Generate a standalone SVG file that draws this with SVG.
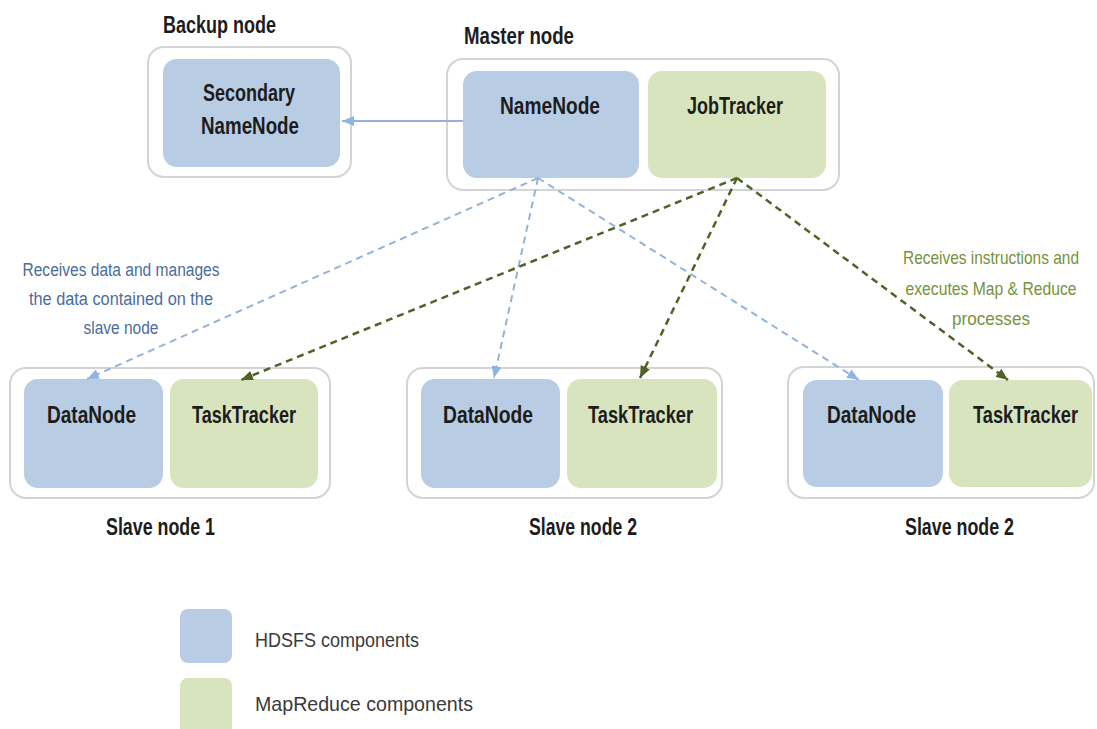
<svg xmlns="http://www.w3.org/2000/svg" width="1097" height="729" viewBox="0 0 1097 729">
<style>
.cont{fill:#fff;stroke:#d4d4d4;stroke-width:2}
.hd{fill:#b8cce4}
.mr{fill:#d7e4bd}
.lbl{font-family:"Liberation Sans",Arial,sans-serif;font-weight:bold;font-size:23px;fill:#1c1c1c}
.ann{font-family:"Liberation Sans",Arial,sans-serif;font-size:18px;text-anchor:middle}
.leg{font-family:"Liberation Sans",Arial,sans-serif;font-size:21px;fill:#3a3a3a}
.bl{stroke:#95b3d7;stroke-width:2;fill:none;stroke-dasharray:7 5}
.gr{stroke:#4f6228;stroke-width:2.5;fill:none;stroke-dasharray:7 5}
</style>
<defs>
<marker id="ab" viewBox="0 0 12 10" refX="12" refY="5" markerWidth="12" markerHeight="10" markerUnits="userSpaceOnUse" orient="auto"><path d="M0,0 L12,5 L0,10 z" fill="#8eb4e3"/></marker>
<marker id="ag" viewBox="0 0 12 10" refX="12" refY="5" markerWidth="12" markerHeight="10" markerUnits="userSpaceOnUse" orient="auto"><path d="M0,0 L12,5 L0,10 z" fill="#4f6228"/></marker>
</defs>

<g id="backup">
<text class="lbl" x="163" y="33" textLength="113" lengthAdjust="spacingAndGlyphs">Backup node</text>
<rect class="cont" x="148" y="47" width="203" height="130" rx="16"/>
<rect class="hd" x="163" y="59" width="177" height="108" rx="14"/>
<text class="lbl" x="203" y="101" textLength="92" lengthAdjust="spacingAndGlyphs">Secondary</text>
<text class="lbl" x="201" y="134" textLength="98" lengthAdjust="spacingAndGlyphs">NameNode</text>
</g>

<g id="master">
<text class="lbl" x="464" y="44" textLength="110" lengthAdjust="spacingAndGlyphs">Master node</text>
<rect class="cont" x="447" y="59" width="392" height="131" rx="16"/>
<rect class="hd" x="463" y="71" width="176" height="107" rx="14"/>
<rect class="mr" x="648" y="71" width="178" height="107" rx="14"/>
<text class="lbl" x="500" y="114" textLength="100" lengthAdjust="spacingAndGlyphs">NameNode</text>
<text class="lbl" x="687" y="114" textLength="96" lengthAdjust="spacingAndGlyphs">JobTracker</text>
</g>

<g id="slave1">
<rect class="cont" x="10" y="368" width="320" height="130" rx="16"/>
<rect class="hd" x="24" y="379" width="139" height="109" rx="14"/>
<rect class="mr" x="170" y="379" width="148" height="109" rx="14"/>
<text class="lbl" x="47" y="423" textLength="89" lengthAdjust="spacingAndGlyphs">DataNode</text>
<text class="lbl" x="192" y="423" textLength="104" lengthAdjust="spacingAndGlyphs">TaskTracker</text>
<text class="lbl" x="106" y="535" textLength="109" lengthAdjust="spacingAndGlyphs">Slave node 1</text>
</g>

<g id="slave2">
<rect class="cont" x="407" y="368" width="315" height="130" rx="16"/>
<rect class="hd" x="421" y="379" width="139" height="109" rx="14"/>
<rect class="mr" x="567" y="379" width="150" height="109" rx="14"/>
<text class="lbl" x="443" y="423" textLength="90" lengthAdjust="spacingAndGlyphs">DataNode</text>
<text class="lbl" x="588" y="423" textLength="105" lengthAdjust="spacingAndGlyphs">TaskTracker</text>
<text class="lbl" x="529" y="535" textLength="108" lengthAdjust="spacingAndGlyphs">Slave node 2</text>
</g>

<g id="slave3">
<rect class="cont" x="788" y="367" width="306" height="131" rx="16"/>
<rect class="hd" x="803" y="380" width="140" height="107" rx="14"/>
<rect class="mr" x="949" y="380" width="143" height="107" rx="14"/>
<text class="lbl" x="827" y="423" textLength="89" lengthAdjust="spacingAndGlyphs">DataNode</text>
<text class="lbl" transform="translate(973,423) scale(0.78,1)" x="0" y="0" textLength="134.6" lengthAdjust="spacingAndGlyphs">TaskTracker</text>
<text class="lbl" x="905" y="535" textLength="109" lengthAdjust="spacingAndGlyphs">Slave node 2</text>
</g>

<g id="connectors">
<line x1="463" y1="121" x2="342" y2="121" stroke="#95b3d7" stroke-width="2" marker-end="url(#ab)"/>
<line class="bl" x1="538" y1="178" x2="87" y2="379" marker-end="url(#ab)"/>
<line class="bl" x1="538" y1="178" x2="494" y2="378" marker-end="url(#ab)"/>
<line class="bl" x1="538" y1="178" x2="859" y2="380" marker-end="url(#ab)"/>
<line class="gr" x1="737" y1="178" x2="241" y2="380" marker-end="url(#ag)"/>
<line class="gr" x1="737" y1="178" x2="640" y2="378" marker-end="url(#ag)"/>
<line class="gr" x1="737" y1="178" x2="1008" y2="380" marker-end="url(#ag)"/>
</g>

<g id="annotations">
<g fill="#4a6d9c">
<text class="ann" x="121" y="276" textLength="197" lengthAdjust="spacingAndGlyphs">Receives data and manages</text>
<text class="ann" x="121" y="305" textLength="184" lengthAdjust="spacingAndGlyphs">the data contained on the</text>
<text class="ann" x="121" y="334" textLength="75" lengthAdjust="spacingAndGlyphs">slave node</text>
</g>
<g fill="#76923c">
<text class="ann" transform="translate(991,264) scale(0.82,1)" x="0" y="0" textLength="214.6" lengthAdjust="spacingAndGlyphs">Receives instructions and</text>
<text class="ann" transform="translate(991,295) scale(0.82,1)" x="0" y="0" textLength="208.5" lengthAdjust="spacingAndGlyphs">executes Map &amp; Reduce</text>
<text class="ann" transform="translate(991,325) scale(0.82,1)" x="0" y="0" textLength="95" lengthAdjust="spacingAndGlyphs">processes</text>
</g>
</g>

<g id="legend">
<rect class="hd" x="180" y="609" width="52" height="54" rx="8"/>
<rect class="mr" x="180" y="678" width="52" height="60" rx="8"/>
<text class="leg" x="255" y="647" textLength="164" lengthAdjust="spacingAndGlyphs">HDSFS components</text>
<text class="leg" x="255" y="711" textLength="218" lengthAdjust="spacingAndGlyphs">MapReduce components</text>
</g>
</svg>
